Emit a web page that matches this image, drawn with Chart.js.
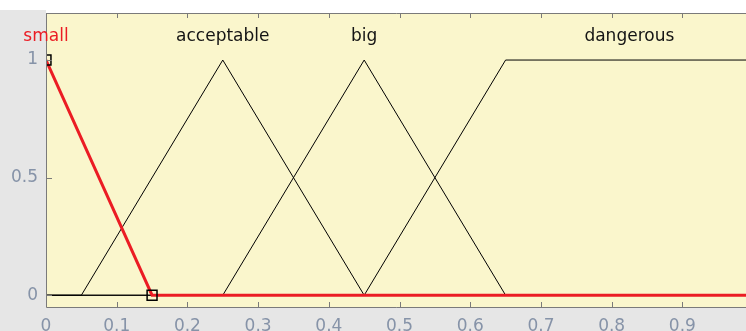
<!DOCTYPE html>
<html>
<head>
<meta charset="utf-8">
<script src="https://cdn.jsdelivr.net/npm/chart.js@4.4.1/dist/chart.umd.min.js"></script>
<style>
  html, body { margin: 0; padding: 0; background: #e6e6e6; }
  #wrap { width: 746px; height: 331px; position: relative; }
</style>
</head>
<body>
<div id="wrap"><canvas id="chart-mf" width="746" height="331"></canvas></div>
<script>
// Funciones de pertenencia (vértices x / y)
var mfNames = ['small', 'acceptable', 'big', 'dangerous'];
var smallX = [0, 0.15, 1];
var smallY = [1, 0, 0];
var acceptableX = [0, 0.05, 0.25, 0.45, 1];
var acceptableY = [0, 0, 1, 0, 0];
var bigX = [0, 0.25, 0.45, 0.65, 1];
var bigY = [0, 0, 1, 0, 0];
var dangerousX = [0, 0.45, 0.65, 1];
var dangerousY = [0, 0, 1, 1];
// posición x de cada etiqueta (centro de la función)
var labelX = [0, 0.25, 0.45, 0.825];
var labelY = 1.08;

var xTicks = [0, 0.1, 0.2, 0.3, 0.4, 0.5, 0.6, 0.7, 0.8, 0.9];
var yTicks = [0, 0.5, 1];

var ROJO = 'rgb(235, 28, 36)';
var FONT = '"DejaVu Sans", Verdana, sans-serif';

function puntos(xs, ys) {
  return xs.map(function(x, i) { return { x: x, y: ys[i] }; });
}

// Fondo gris, banda blanca arriba, área amarilla
var fondoPlugin = {
  id: 'fondo',
  beforeDraw: function(chart) {
    var ctx = chart.ctx, a = chart.chartArea;
    ctx.save();
    ctx.fillStyle = '#e6e6e6';
    ctx.fillRect(0, 0, chart.width, chart.height);
    ctx.fillStyle = '#ffffff';
    ctx.fillRect(0, 0, chart.width, 10);
    ctx.fillRect(a.left, 0, chart.width - a.left, a.top);
    ctx.fillStyle = '#faf6cc';
    ctx.fillRect(a.left, a.top, chart.width - a.left, a.bottom - a.top);
    ctx.restore();
  }
};

// Marco y marcas de ejes hacia dentro (estilo MATLAB) + nombres de las funciones
var marcoPlugin = {
  id: 'marco',
  afterDatasetsDraw: function(chart) {
    var ctx = chart.ctx, a = chart.chartArea;
    var sx = chart.scales.x, sy = chart.scales.y;
    ctx.save();
    ctx.strokeStyle = '#7a7a7a';
    ctx.lineWidth = 1;
    ctx.beginPath();
    ctx.moveTo(chart.width, a.top + 0.5);
    ctx.lineTo(a.left + 0.5, a.top + 0.5);
    ctx.lineTo(a.left + 0.5, a.bottom + 0.5);
    ctx.lineTo(chart.width, a.bottom + 0.5);
    xTicks.forEach(function(v) {
      var px = Math.round(sx.getPixelForValue(v)) + 0.5;
      ctx.moveTo(px, a.top); ctx.lineTo(px, a.top + 5);
      ctx.moveTo(px, a.bottom); ctx.lineTo(px, a.bottom - 5);
    });
    yTicks.forEach(function(v) {
      var py = Math.round(sy.getPixelForValue(v)) + 0.5;
      ctx.moveTo(a.left, py); ctx.lineTo(a.left + 6, py);
    });
    ctx.stroke();

    ctx.font = '17px ' + FONT;
    ctx.textAlign = 'center';
    ctx.textBaseline = 'alphabetic';
    mfNames.forEach(function(n, i) {
      ctx.fillStyle = i === 0 ? ROJO : '#141414';
      ctx.fillText(n, sx.getPixelForValue(labelX[i]), sy.getPixelForValue(labelY));
    });
    ctx.restore();
  }
};

var ctx = document.getElementById('chart-mf');

new Chart(ctx, {
  type: 'line',
  data: {
    datasets: [{
      label: mfNames[0],
      data: puntos(smallX, smallY),
      borderColor: ROJO,
      borderWidth: 3,
      pointStyle: 'rect',
      pointRadius: [7, 7, 0],
      pointBorderColor: '#000000',
      pointBorderWidth: 1.5,
      pointBackgroundColor: 'rgba(0,0,0,0)',
      clip: 0
    }, {
      label: mfNames[1],
      data: puntos(acceptableX, acceptableY),
      borderColor: '#000000',
      borderWidth: 1,
      pointRadius: 0
    }, {
      label: mfNames[2],
      data: puntos(bigX, bigY),
      borderColor: '#000000',
      borderWidth: 1,
      pointRadius: 0
    }, {
      label: mfNames[3],
      data: puntos(dangerousX, dangerousY),
      borderColor: '#000000',
      borderWidth: 1,
      pointRadius: 0
    }]
  },
  options: {
    responsive: false,
    animation: false,
    devicePixelRatio: 1,
    layout: { autoPadding: false, padding: { top: 13, left: 0, right: 0, bottom: 0 } },
    elements: { line: { tension: 0 } },
    plugins: {
      legend: { display: false },
      tooltip: { enabled: false }
    },
    scales: {
      x: {
        type: 'linear',
        min: 0,
        max: 0.99,
        afterBuildTicks: function(scale) {
          scale.ticks = xTicks.map(function(v) { return { value: v }; });
        },
        afterFit: function(scale) {
          scale.height = 24;
          scale.paddingLeft = 0;
          scale.paddingRight = 0;
        },
        grid: { display: false, drawTicks: false },
        border: { display: false },
        ticks: {
          autoSkip: false,
          maxRotation: 0,
          padding: 9,
          color: '#8693a8',
          font: { family: FONT, size: 17 },
          callback: function(v) { return String(+v.toFixed(1)); }
        }
      },
      y: {
        min: -0.05,
        max: 1.2,
        afterBuildTicks: function(scale) {
          scale.ticks = yTicks.map(function(v) { return { value: v }; });
        },
        afterFit: function(scale) {
          scale.width = 46;
          scale.paddingTop = 0;
          scale.paddingBottom = 0;
        },
        grid: { display: false, drawTicks: false },
        border: { display: false },
        ticks: {
          padding: 8,
          color: '#8693a8',
          font: { family: FONT, size: 17 },
          callback: function(v) { return String(v); }
        }
      }
    }
  },
  plugins: [fondoPlugin, marcoPlugin]
});
</script>
</body>
</html>
